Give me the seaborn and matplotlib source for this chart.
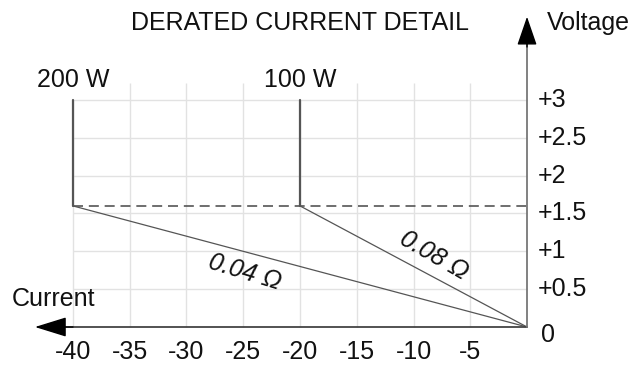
import matplotlib
matplotlib.use("Agg")
import matplotlib.pyplot as plt
import seaborn as sns
import pandas as pd

sns.set_style("white")
plt.rcParams['font.family'] = ['Liberation Sans', 'DejaVu Sans']

# data
x_ticks = [-40, -35, -30, -25, -20, -15, -10, -5]
x_tick_labels = ["-40", "-35", "-30", "-25", "-20", "-15", "-10", "-5"]
y_ticks = [0.5, 1, 1.5, 2, 2.5, 3]
y_tick_labels = ["+0.5", "+1", "+1.5", "+2", "+2.5", "+3"]
derate_voltage = 1.6
power_labels = ["200 W", "100 W"]
power_current = [-40, -20]
resist_labels = ["0.04 Ω", "0.08 Ω"]
top_voltage = 3.0

FS = 18
txt_c = "#111111"

fig = plt.figure(figsize=(6.42, 3.65), dpi=100)
ax = fig.add_axes([0, 0, 1, 1])
ax.set_xlim(-46.43, 10.13)
ax.set_ylim(-0.502, 4.321)
ax.axis("off")

grid_c = "#e2e2e2"
line_c = "#555555"
axis_c = "#444444"

# grid
ax.hlines(y_ticks, -40, 0, color=grid_c, lw=1, zorder=0)
tall = [t for t in x_ticks if t not in power_current]
ax.vlines(tall, 0, 3.22, color=grid_c, lw=1, zorder=0)
ax.vlines(power_current, 0, top_voltage, color=grid_c, lw=1, zorder=0)

# dashed derate line
ax.hlines([derate_voltage], -40, 0, color=line_c, lw=1.2, linestyles=(0, (6, 3.5)), zorder=2)

# lines via seaborn
for lab, cur in zip(power_labels, power_current):
    vert = pd.DataFrame({"I": [cur, cur], "V": [top_voltage, derate_voltage]})
    sns.lineplot(data=vert, x="I", y="V", sort=False, estimator=None, color=line_c, lw=1.6, ax=ax, zorder=3)
    slope = pd.DataFrame({"I": [cur, 0], "V": [derate_voltage, 0]})
    sns.lineplot(data=slope, x="I", y="V", sort=False, estimator=None, color=line_c, lw=0.9, ax=ax, zorder=3)
    ax.text(cur, 3.26, lab, ha="center", va="center", fontsize=FS, color=txt_c)

# resistance labels
ax.text(-24.85, 0.73, resist_labels[0], rotation=-17, style="italic", fontsize=FS,
        ha="center", va="center", color=txt_c, rotation_mode="anchor")
ax.text(-8.2, 0.95, resist_labels[1], rotation=-30, style="italic", fontsize=FS,
        ha="center", va="center", color=txt_c, rotation_mode="anchor")

# axes arrows
ax.plot([0, -41.5], [0, 0], color=axis_c, lw=1.3, zorder=4)
ax.annotate("", xy=(-43.35, 0), xytext=(-40.0, 0),
            arrowprops=dict(arrowstyle="-|>,head_length=2.0,head_width=0.62", color="#000000", lw=1.0,
                            shrinkA=0, shrinkB=0), zorder=5)
ax.plot([0, 0], [0, 3.9], color="#777777", lw=1.3, zorder=4)
ax.annotate("", xy=(0, 4.1), xytext=(0, 3.7),
            arrowprops=dict(arrowstyle="-|>,head_length=1.8,head_width=0.62", color="#000000", lw=1.0,
                            shrinkA=0, shrinkB=0), zorder=5)

# tick labels
for t, l in zip(x_ticks, x_tick_labels):
    ax.text(t, -0.33, l, ha="center", va="center", fontsize=FS, color=txt_c)
for t, l in zip(y_ticks, y_tick_labels):
    ax.text(0.95, t, l, ha="left", va="center", fontsize=FS, color=txt_c)
ax.text(1.2, -0.1, "0", ha="left", va="center", fontsize=FS, color=txt_c)

# axis titles
ax.text(-41.7, 0.37, "Current", ha="center", va="center", fontsize=FS, color=txt_c)
ax.text(1.76, 4.02, "Voltage", ha="left", va="center", fontsize=FS, color=txt_c)
ax.text(-20.0, 4.02, "DERATED CURRENT DETAIL", ha="center", va="center", fontsize=FS, color=txt_c)

fig.savefig("out.png", dpi=100)
